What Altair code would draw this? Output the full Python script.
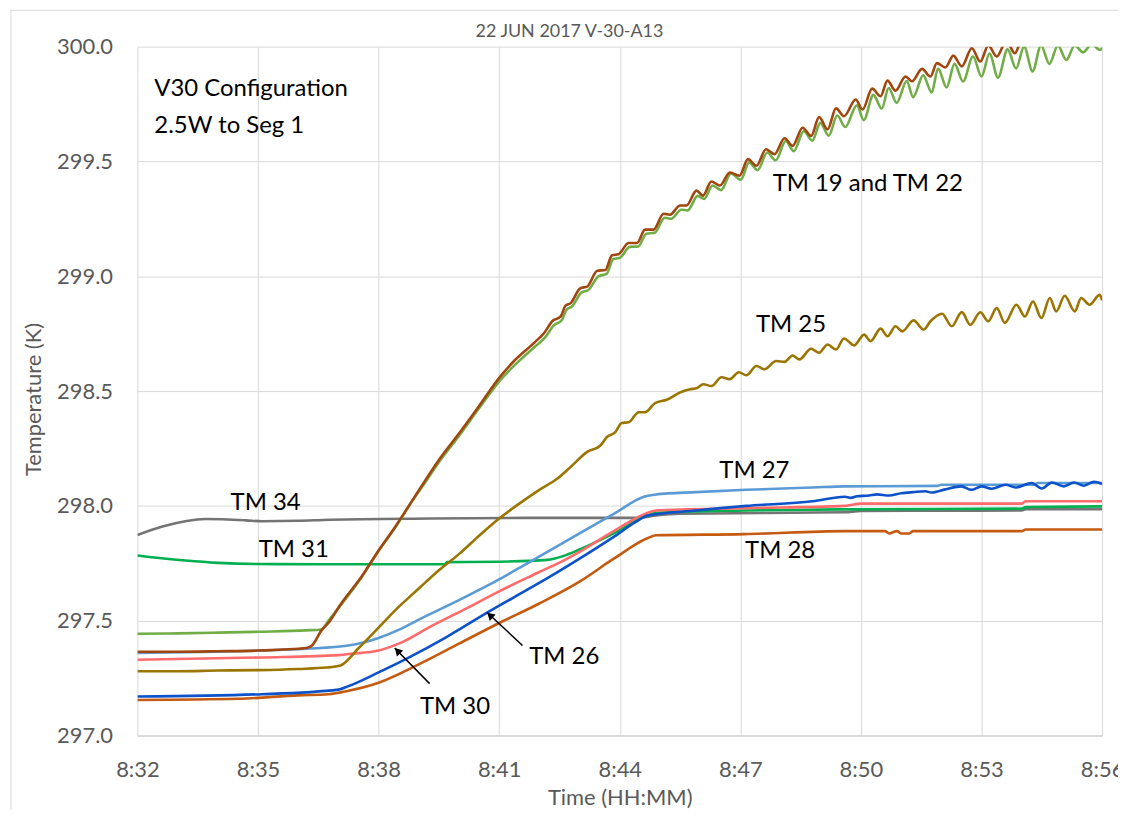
import altair as alt
import pandas as pd

TITLE = "22 JUN 2017 V-30-A13"
X_TICKS = [0, 3, 6, 9, 12, 15, 18, 21, 24]          # minutes after 8:32
Y_TICKS = [297.0, 297.5, 298.0, 298.5, 299.0, 299.5, 300.0]

# (minutes after 8:32, temperature K)
TM34 = [(0, 297.873), (0.62, 297.91), (1.7, 297.943), (2.7, 297.937), (3.1, 297.933), (4.0, 297.935),
        (4.8, 297.94), (7.3, 297.945), (10.0, 297.948), (12.5, 297.948), (12.9, 297.958), (13.5, 297.966),
        (17.6, 297.972), (18.0, 297.978), (22.0, 297.98), (22.1, 297.986), (24.0, 297.986)]
TM31 = [(0, 297.784), (0.6, 297.772), (1.2, 297.762), (2.0, 297.752), (3.0, 297.747), (4.6, 297.746),
        (7.65, 297.746), (7.7, 297.755), (9.0, 297.757), (10.2, 297.765), (10.6, 297.782), (11.0, 297.81),
        (11.85, 297.88), (12.7, 297.96), (12.9, 297.97), (15.1, 297.98), (17.6, 297.985), (22.0, 297.988),
        (22.1, 297.995), (24.0, 297.998)]
TM28 = [(0, 297.155), (2.5, 297.16), (4.0, 297.175), (4.75, 297.18), (5.25, 297.195), (6.0, 297.23),
        (7.0, 297.31), (8.0, 297.40), (9.0, 297.49), (10.0, 297.575), (11.0, 297.67), (11.85, 297.77),
        (12.7, 297.86), (12.9, 297.872), (15.1, 297.877), (17.6, 297.89), (18.6, 297.89), (18.7, 297.88),
        (18.9, 297.89), (19.0, 297.88), (19.2, 297.88), (19.3, 297.89), (22.0, 297.89), (22.1, 297.897),
        (24.0, 297.897)]
TM26 = [(0, 297.17), (3.1, 297.18), (5.0, 297.2), (5.25, 297.215), (6.0, 297.275), (6.7, 297.335),
        (7.7, 297.43), (8.7, 297.535), (9.7, 297.635), (10.2, 297.685), (11.0, 297.77), (11.85, 297.865),
        (12.4, 297.93), (12.7, 297.958), (13.9, 297.98), (15.15, 298.0), (16.8, 298.02), (17.6, 298.04),
        (17.75, 298.035), (17.9, 298.042), (18.2, 298.045), (18.4, 298.05), (18.7, 298.045),
        (19.0, 298.055), (19.3, 298.06), (19.6, 298.064), (19.75, 298.058), (20.1, 298.072),
        (20.5, 298.085), (20.75, 298.07), (21.0, 298.085), (21.25, 298.075), (21.6, 298.092),
        (21.85, 298.08), (22.25, 298.1), (22.5, 298.076), (22.75, 298.102), (23.05, 298.085),
        (23.3, 298.102), (23.55, 298.088), (23.8, 298.105), (24.0, 298.095)]
TM30 = [(0, 297.33), (3.1, 297.34), (5.0, 297.35), (5.25, 297.355), (6.0, 297.37), (6.5, 297.40),
        (7.3, 297.475), (8.2, 297.555), (9.0, 297.628), (10.0, 297.712), (10.6, 297.762), (11.0, 297.80),
        (11.85, 297.89), (12.7, 297.97), (12.9, 297.98), (15.1, 297.99), (17.6, 298.0), (18.0, 298.01),
        (22.0, 298.01), (22.1, 298.02), (24.0, 298.02)]
TM27 = [(0, 297.36), (2.0, 297.365), (3.1, 297.37), (4.2, 297.378), (5.25, 297.392), (6.0, 297.425),
        (6.5, 297.46), (7.0, 297.505), (8.0, 297.59), (9.0, 297.68), (9.7, 297.75), (10.2, 297.80),
        (11.0, 297.88), (11.85, 297.965), (12.6, 298.04), (12.9, 298.05), (13.9, 298.06), (15.15, 298.07),
        (16.8, 298.08), (17.6, 298.085), (19.9, 298.087), (20.0, 298.092), (22.3, 298.092),
        (22.4, 298.1), (24.0, 298.1)]
TM25 = [(0, 297.28), (1.0, 297.28), (2.0, 297.283), (3.0, 297.285), (4.0, 297.29), (4.7, 297.296),
        (5.05, 297.305), (5.5, 297.38), (6.0, 297.47), (6.5, 297.56), (7.0, 297.64), (7.5, 297.72),
        (8.0, 297.79), (8.5, 297.87), (9.0, 297.945), (9.5, 298.01), (10.0, 298.07), (10.45, 298.119),
        (10.78, 298.17), (11.19, 298.235), (11.52, 298.263), (11.68, 298.3), (11.89, 298.321),
        (12.05, 298.361), (12.22, 298.364), (12.47, 298.408), (12.63, 298.408), (12.88, 298.448),
        (13.17, 298.462), (13.5, 298.494), (13.75, 298.508), (13.91, 298.512), (14.08, 298.53),
        (14.28, 298.522), (14.53, 298.56), (14.74, 298.552), (14.96, 298.582), (15.15, 298.569),
        (15.4, 298.609), (15.6, 298.595), (15.89, 298.631), (16.1, 298.627), (16.3, 298.655),
        (16.47, 298.638), (16.76, 298.684), (16.96, 298.667), (17.17, 298.703), (17.38, 298.681),
        (17.58, 298.729), (17.83, 298.699), (18.08, 298.746), (18.24, 298.717), (18.49, 298.772),
        (18.66, 298.739), (18.86, 298.782), (19.03, 298.76), (19.31, 298.808), (19.56, 298.768),
        (19.73, 298.804), (20.02, 298.837), (20.26, 298.782), (20.51, 298.844), (20.72, 298.789),
        (20.97, 298.843), (21.17, 298.804), (21.38, 298.862), (21.58, 298.797), (21.87, 298.876),
        (22.08, 298.825), (22.28, 298.89), (22.49, 298.818), (22.7, 298.905), (22.86, 298.847),
        (23.07, 298.915), (23.32, 298.847), (23.48, 298.905), (23.69, 298.876), (23.94, 298.919),
        (24.0, 298.895)]
TM22 = [(0, 297.443), (1.0, 297.445), (2.0, 297.448), (3.0, 297.452), (4.2, 297.458), (4.58, 297.462),
        (4.75, 297.50), (5.07, 297.57), (5.57, 297.687), (6.0, 297.804), (6.4, 297.903), (6.8, 298.011),
        (7.15, 298.1), (7.5, 298.19), (8.0, 298.305), (8.5, 298.425), (9.04, 298.55), (9.4, 298.615),
        (9.9, 298.695), (10.15, 298.735), (10.35, 298.785), (10.56, 298.81), (10.68, 298.855),
        (10.81, 298.868), (11.05, 298.93), (11.22, 298.94), (11.47, 299.0), (11.67, 299.01),
        (11.84, 299.075), (12.0, 299.08), (12.25, 299.128), (12.46, 299.13), (12.66, 299.185),
        (12.87, 299.19), (13.12, 299.255), (13.28, 299.25), (13.53, 299.29), (13.69, 299.287),
        (13.94, 299.35), (14.1, 299.337), (14.31, 299.395), (14.52, 299.375), (14.77, 299.448),
        (15.01, 299.42), (15.22, 299.496), (15.43, 299.462), (15.67, 299.539), (15.88, 299.505),
        (16.13, 299.589), (16.33, 299.545), (16.58, 299.632), (16.79, 299.59), (16.99, 299.668),
        (17.2, 299.612), (17.41, 299.7), (17.61, 299.65), (17.9, 299.745), (18.07, 299.68),
        (18.31, 299.79), (18.52, 299.73), (18.69, 299.82), (18.89, 299.755), (19.14, 299.85),
        (19.3, 299.78), (19.55, 299.875), (19.76, 299.8), (19.92, 299.905), (20.13, 299.822),
        (20.33, 299.925), (20.54, 299.848), (20.79, 299.957), (21.0, 299.87), (21.2, 299.97),
        (21.41, 299.865), (21.65, 299.988), (21.86, 299.905), (22.06, 300.0), (22.27, 299.892),
        (22.48, 300.005), (22.69, 299.925), (22.9, 300.005), (23.11, 299.942), (23.32, 300.005),
        (23.53, 299.975), (23.74, 300.01), (23.95, 299.985), (24.0, 299.995)]
TM19 = [(0, 297.365), (1.0, 297.365), (2.0, 297.367), (3.0, 297.37), (4.2, 297.381), (4.35, 297.393),
        (4.58, 297.458), (4.75, 297.49), (5.07, 297.575), (5.57, 297.69), (6.0, 297.806), (6.4, 297.905),
        (6.8, 298.013), (7.15, 298.108), (7.5, 298.2), (8.0, 298.315), (8.5, 298.435), (9.04, 298.566),
        (9.37, 298.631), (9.87, 298.71), (10.12, 298.753), (10.32, 298.804), (10.53, 298.825),
        (10.65, 298.872), (10.78, 298.883), (11.02, 298.948), (11.19, 298.955), (11.44, 299.024),
        (11.64, 299.027), (11.81, 299.092), (11.97, 299.096), (12.22, 299.145), (12.43, 299.145),
        (12.63, 299.203), (12.84, 299.203), (13.09, 299.272), (13.25, 299.268), (13.5, 299.308),
        (13.66, 299.308), (13.91, 299.373), (14.07, 299.351), (14.28, 299.413), (14.49, 299.395),
        (14.74, 299.452), (14.98, 299.438), (15.19, 299.51), (15.4, 299.481), (15.64, 299.553),
        (15.85, 299.532), (16.1, 299.601), (16.3, 299.568), (16.55, 299.647), (16.76, 299.611),
        (16.96, 299.693), (17.17, 299.64), (17.38, 299.731), (17.58, 299.697), (17.87, 299.77),
        (18.04, 299.726), (18.28, 299.817), (18.49, 299.784), (18.66, 299.852), (18.86, 299.808),
        (19.11, 299.87), (19.27, 299.849), (19.52, 299.903), (19.73, 299.87), (19.89, 299.928),
        (20.1, 299.909), (20.3, 299.961), (20.51, 299.914), (20.76, 299.993), (20.97, 299.935),
        (21.17, 300.005), (21.38, 299.957), (21.62, 300.025), (21.83, 299.971), (22.03, 300.04),
        (22.24, 300.012), (22.45, 300.06), (22.66, 300.03), (22.87, 300.075), (23.08, 300.045),
        (23.29, 300.085), (23.5, 300.055), (23.71, 300.095), (23.92, 300.065), (24.0, 300.08)]

SERIES = [("TM 34", TM34, "#747474"), ("TM 31", TM31, "#00b050"), ("TM 28", TM28, "#c55a11"),
          ("TM 27", TM27, "#5b9bd5"), ("TM 30", TM30, "#ff6b6b"), ("TM 26", TM26, "#0d52c8"),
          ("TM 25", TM25, "#9a7500"), ("TM 22", TM22, "#70ad47"), ("TM 19", TM19, "#a0460e")]

# annotation labels: (text, minutes, K)
LABELS_CENTER = [("TM 34", 3.19, 298.011), ("TM 31", 3.89, 297.808), ("TM 19 and TM 22", 18.17, 299.403),
                 ("TM 25", 16.26, 298.789), ("TM 27", 15.35, 298.150), ("TM 28", 15.99, 297.804),
                 ("TM 26", 10.62, 297.341), ("TM 30", 7.9, 297.125)]
LABELS_LEFT = [("V30 Configuration", 0.42, 299.814), ("2.5W to Seg 1", 0.42, 299.654)]
# arrows: tail (t, v) -> head (t, v), arrow-head centre and angle
ARROWS = [(7.27, 297.226, 6.40, 297.381, 6.47, 297.369, 316),
          (9.58, 297.392, 8.70, 297.536, 8.77, 297.524, 313)]

FONT = "Lato"
GREY = "#595959"
GRID = "#d9d9d9"

xscale = alt.Scale(domain=[0, 24], nice=False, zero=False)
yscale = alt.Scale(domain=[297, 300], nice=False, zero=False)

xaxis = alt.Axis(values=X_TICKS, labelExpr="'8:' + format(32 + datum.value, '02d')",
                 title="Time (HH:MM)", grid=True, gridColor=GRID, gridWidth=1,
                 domain=True, domainColor="#c8c8c8", domainWidth=1.2, ticks=False, tickSize=0,
                 labelPadding=24, labelFont=FONT, labelFontSize=22, labelColor=GREY,
                 labelFlush=False, labelOverlap=False, titleFont=FONT, titleFontSize=22,
                 titleFontWeight="normal", titleColor=GREY, titleY=69, titleBaseline="alphabetic")
yaxis = alt.Axis(values=Y_TICKS, format=".1f", title="Temperature (K)", grid=True, gridColor=GRID,
                 gridWidth=1, domain=False, ticks=False, tickSize=0, labelPadding=25, labelFont=FONT,
                 labelFontSize=22, labelColor=GREY, labelFlush=False, labelOverlap=False,
                 titleFont=FONT, titleFontSize=22, titleFontWeight="normal", titleColor=GREY,
                 titleAngle=270, titleX=-97, titleY=354, titleAlign="center",
                 titleBaseline="alphabetic")

layers = []
for name, pts, col in SERIES:
    d = pd.DataFrame(pts, columns=["t", "v"])
    d["idx"] = range(len(d))
    d["series"] = name
    layers.append(
        alt.Chart(d).mark_line(color=col, strokeWidth=2.6, clip=True, interpolate="monotone").encode(
            x=alt.X("t:Q", scale=xscale, axis=xaxis),
            y=alt.Y("v:Q", scale=yscale, axis=yaxis),
            order="idx:Q",
        )
    )

lab_c = pd.DataFrame(LABELS_CENTER, columns=["label", "t", "v"])
lab_l = pd.DataFrame(LABELS_LEFT, columns=["label", "t", "v"])
texts_c = alt.Chart(lab_c).mark_text(font=FONT, fontSize=24, color="#000000", align="center",
                                     baseline="middle").encode(
    x=alt.X("t:Q", scale=xscale), y=alt.Y("v:Q", scale=yscale), text="label:N")
texts_l = alt.Chart(lab_l).mark_text(font=FONT, fontSize=24, color="#000000", align="left",
                                     baseline="middle").encode(
    x=alt.X("t:Q", scale=xscale), y=alt.Y("v:Q", scale=yscale), text="label:N")

arr = pd.DataFrame(ARROWS, columns=["t1", "v1", "t2", "v2", "th", "vh", "ang"])
arrow_lines = alt.Chart(arr).mark_rule(color="#000000", strokeWidth=1.5).encode(
    x=alt.X("t1:Q", scale=xscale), y=alt.Y("v1:Q", scale=yscale), x2="t2:Q", y2="v2:Q")
arrow_heads = alt.Chart(arr).mark_point(shape="triangle-up", filled=True, color="#000000",
                                        size=75, opacity=1).encode(
    x=alt.X("th:Q", scale=xscale), y=alt.Y("vh:Q", scale=yscale), angle=alt.Angle("ang:Q", scale=None))

title = alt.Chart(pd.DataFrame({"label": [TITLE]})).mark_text(
    font=FONT, fontSize=18, color=GREY, align="center", baseline="middle").encode(
    x=alt.value(434), y=alt.value(-15), text="label:N")

frame_df = pd.DataFrame({"k": [0]})
frame_left = alt.Chart(frame_df).mark_rule(color=GRID, strokeWidth=1).encode(
    x=alt.value(-127), y=alt.value(-37), y2=alt.value(780))
frame_top = alt.Chart(frame_df).mark_rule(color=GRID, strokeWidth=1).encode(
    x=alt.value(-127), x2=alt.value(1000), y=alt.value(-36.5))

chart = alt.layer(
    *layers, texts_c, texts_l, arrow_lines, arrow_heads, title, frame_left, frame_top
).properties(
    width=969, height=692,
    autosize=alt.AutoSizeParams(type="none"),
    padding={"left": 130, "top": 37, "right": 16, "bottom": 73},
    background="white",
).configure_view(strokeWidth=0)

chart.save("out.html", embed_options={"renderer": "svg", "actions": False})
